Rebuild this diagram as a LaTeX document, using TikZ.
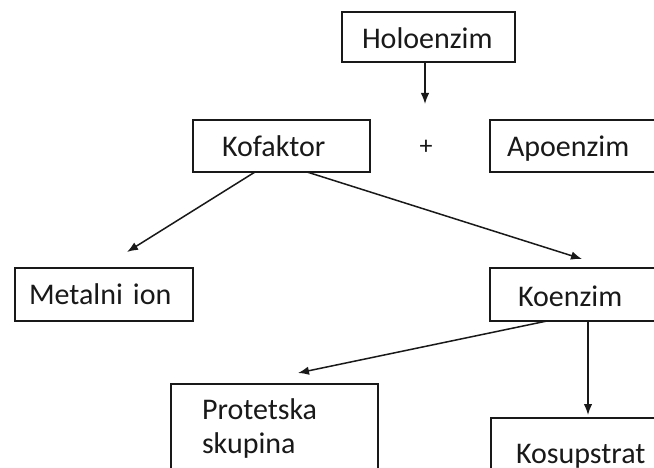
\documentclass[tikz,border=0pt]{standalone}
\usepackage{fontspec}
\setmainfont{Carlito}
\usetikzlibrary{arrows.meta}
\begin{document}
\begin{tikzpicture}[x=1pt,y=-1pt,
  box/.style={draw=black!90, line width=1.9pt, inner ysep=0pt, outer sep=0pt,
    align=left, anchor=north west, font=\fontsize{30}{34}\selectfont, text=black!90},
  arr/.style={draw=black!90, line width=1.5pt, -{Latex[length=11pt,width=8.5pt]}}]
\clip (0,0) rectangle (654,468);
\fill[white] (0,0) rectangle (654,468);
\node[box, inner xsep=20pt, text width=133pt, text height=37pt, text depth=13pt] (holo) at (342,12) {Holoenzim};
\node[box, inner xsep=29pt, text width=119pt, text height=37pt, text depth=15pt] (kof) at (193,120) {Kofaktor};
\node[box, inner xsep=17pt, text width=300pt, text height=37pt, text depth=15pt] (apo) at (490,120) {Apoenzim};
\node[font=\fontsize{26}{26}\selectfont, text=black!90, inner sep=0pt] (plus) at (426,147) {+};
\node[box, inner xsep=14pt, text width=150pt, text height=37pt, text depth=16pt] (met) at (15,268) {Metalni ion};
\node[box, inner xsep=28pt, text width=300pt, text height=38pt, text depth=15pt] (koe) at (490,268) {Koenzim};
\node[box, inner xsep=31pt, text width=145pt, text height=35pt, text depth=100pt] (prot) at (171,384) {Protetska\\skupina};
\node[box, inner xsep=25pt, text width=300pt, text height=45pt, text depth=40pt] (kos) at (491,418) {Kosupstrat};
\draw[arr] ([xshift=83pt]holo.south west) -- ([xshift=-1pt,yshift=43pt]plus.center);
\draw[arr] ([xshift=62pt]kof.south west) -- ([xshift=112pt,yshift=16pt]met.north west);
\draw[arr] ([xshift=114pt]kof.south west) -- ([xshift=92pt,yshift=9pt]koe.north west);
\draw[arr] ([xshift=57pt]koe.south west) -- ([xshift=127pt,yshift=11pt]prot.north west);
\draw[arr] ([xshift=98pt]koe.south west) -- ([xshift=97pt,yshift=3pt]kos.north west);
\end{tikzpicture}
\end{document}
